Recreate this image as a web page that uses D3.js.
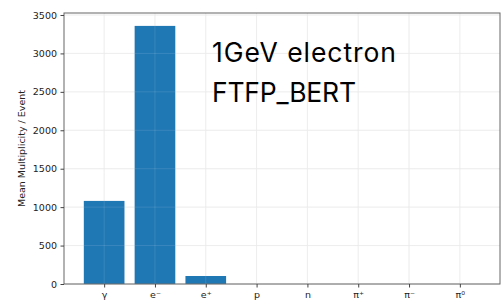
<!DOCTYPE html>
<html><head><meta charset="utf-8">
<script src="https://cdn.jsdelivr.net/npm/d3@7"></script>
<style>body{margin:0;background:#fff}svg{display:block}</style>
</head><body>
<script>
const categories = ["γ","e⁻","e⁺","p","n","π⁺","π⁻","π⁰"];
const values = [1081, 3358, 104, 0, 0, 0, 0, 0];
const yTicks = [0,500,1000,1500,2000,2500,3000,3500];
const yLabel = "Mean Multiplicity / Event";
const annotation = ["1GeV electron","FTFP_BERT"];

const W=503,H=303;
const m={l:64,r:3,t:13,b:19};
const svg=d3.select("body").append("svg").attr("width",W).attr("height",H);
const pw=W-m.l-m.r, ph=H-m.t-m.b;
const maxV=d3.max(values);
const x=d3.scaleLinear().domain([-0.79,categories.length-1+0.79]).range([m.l,m.l+pw]);
const y=d3.scaleLinear().domain([0,maxV*1.05]).range([m.t+ph,m.t]);
const g=svg.append("g");
g.selectAll(".gy").data(yTicks).join("line").attr("x1",m.l).attr("x2",m.l+pw)
 .attr("y1",d=>y(d)).attr("y2",d=>y(d)).attr("stroke","#e6e6e6").attr("stroke-width",0.8);
g.selectAll(".gx").data(categories).join("line").attr("y1",m.t).attr("y2",m.t+ph)
 .attr("x1",(d,i)=>x(i)).attr("x2",(d,i)=>x(i)).attr("stroke","#e6e6e6").attr("stroke-width",0.8);
const bw=(x(0.4)-x(-0.4));
g.selectAll(".bar").data(values).join("rect").attr("x",(d,i)=>x(i)-bw/2).attr("width",bw)
 .attr("y",d=>y(d)).attr("height",d=>y(0)-y(d)).attr("fill","#1f77b4");
g.selectAll(".gy2").data(yTicks).join("line").attr("x1",m.l).attr("x2",m.l+pw)
 .attr("y1",d=>y(d)).attr("y2",d=>y(d)).attr("stroke","#ffffff").attr("stroke-opacity",0.15).attr("stroke-width",0.8);
g.selectAll(".gx2").data(categories).join("line").attr("y1",m.t).attr("y2",m.t+ph)
 .attr("x1",(d,i)=>x(i)).attr("x2",(d,i)=>x(i)).attr("stroke","#ffffff").attr("stroke-opacity",0.15).attr("stroke-width",0.8);
svg.append("rect").attr("x",m.l).attr("y",m.t).attr("width",pw).attr("height",ph)
 .attr("fill","none").attr("stroke","#666").attr("stroke-width",1);
const ya=d3.axisLeft(y).tickValues(yTicks).tickSize(3.5).tickPadding(3.5).tickFormat(d3.format("d"));
const ay=svg.append("g").attr("transform",`translate(${m.l},0)`).call(ya);
ay.select(".domain").remove();
ay.selectAll("text").attr("font-family","DejaVu Sans").attr("font-size",9.5).attr("fill","#222");
ay.selectAll("line").attr("stroke","#444");
const xa=d3.axisBottom(x).tickValues(d3.range(categories.length)).tickFormat(i=>categories[i]).tickSize(3.5).tickPadding(3.5);
const ax=svg.append("g").attr("transform",`translate(0,${m.t+ph})`).call(xa);
ax.select(".domain").remove();
ax.selectAll("text").attr("font-family","DejaVu Sans").attr("font-size",9.5).attr("fill","#222");
ax.selectAll("line").attr("stroke","#444");
svg.append("text").attr("transform",`translate(25,${m.t+ph/2}) rotate(-90)`).attr("text-anchor","middle")
 .attr("font-family","DejaVu Sans").attr("font-size",9.5).attr("fill","#222").text(yLabel);
const annLen=[184,144];
svg.selectAll(".ann").data(annotation).join("text").attr("x",212).attr("y",(d,i)=>62+i*40)
 .attr("font-family","Inter").attr("font-size",26.5).attr("fill","#000")
 .attr("textLength",(d,i)=>annLen[i]).attr("lengthAdjust","spacing").text(d=>d);
</script>
</body></html>
